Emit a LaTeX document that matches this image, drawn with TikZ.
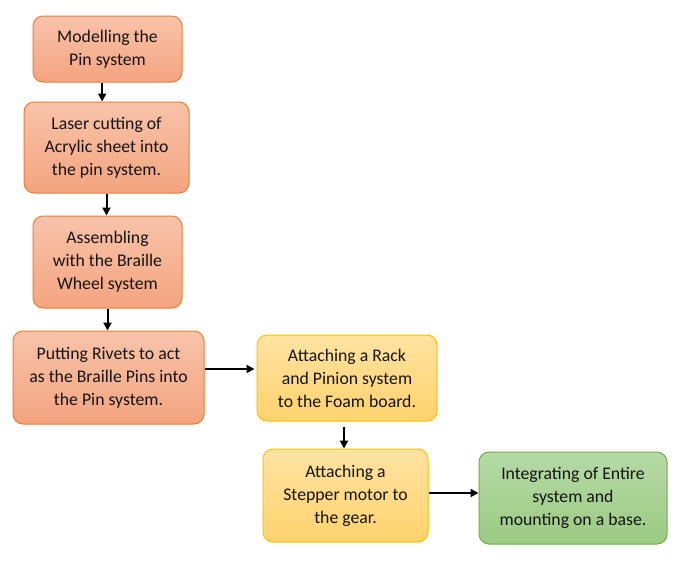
\documentclass[tikz,border=0pt]{standalone}
\usepackage{fontspec}
\setmainfont{Carlito}
\usetikzlibrary{arrows.meta}

\definecolor{orangeline}{HTML}{ED7D31}
\definecolor{orangetop}{HTML}{F8C3AA}
\definecolor{orangebot}{HTML}{F4A47F}
\definecolor{yellowline}{HTML}{FFC000}
\definecolor{yellowtop}{HTML}{FFE3A2}
\definecolor{yellowbot}{HTML}{FFD26C}
\definecolor{greenline}{HTML}{70AD47}
\definecolor{greentop}{HTML}{B6DAA6}
\definecolor{greenbot}{HTML}{9BCB83}
\definecolor{textcol}{HTML}{141414}

\begin{document}
\begin{tikzpicture}[x=0.75pt, y=-0.75pt,
  every node/.style =
  	{shape=rectangle, rounded corners=7.5pt,
    line width=0.75pt, align=center, inner sep=0pt,
    text=textcol, font=\fontsize{13.3}{17.2}\selectfont},
  orangebox/.style = {draw=orangeline, top color=orangetop, bottom color=orangebot},
  yellowbox/.style = {draw=yellowline, top color=yellowtop, bottom color=yellowbot},
  greenbox/.style  = {draw=greenline, top color=greentop, bottom color=greenbot},
  flow/.style = {line width=1.5pt, -{Triangle[length=6pt,width=6pt]}}
]
  \useasboundingbox (0,0) rectangle (691,569);

  \node[orangebox, minimum width=111.75pt, minimum height=49.5pt] (model) at (107.5,49)
    {Modelling the\\Pin system};
  \node[orangebox, minimum width=123.75pt, minimum height=68.25pt] (laser) at (106.5,147.5)
    {Laser cutting of\\Acrylic sheet into\\the pin system.};
  \node[orangebox, minimum width=111.75pt, minimum height=69pt] (assemble) at (107.5,262)
    {Assembling\\with the Braille\\Wheel system};
  \node[orangebox, minimum width=143.25pt, minimum height=69.75pt] (rivets) at (108.5,377.5)
    {Putting Rivets to act\\as the Braille Pins into\\the Pin system.};
  \node[yellowbox, minimum width=135pt, minimum height=64.5pt] (rack) at (347,378)
    {Attaching a Rack\\and Pinion system\\to the Foam board.};
  \node[yellowbox, minimum width=123.75pt, minimum height=69.75pt] (stepper) at (345.5,495.5)
    {Attaching a\\Stepper motor to\\the gear.};
  \node[greenbox, minimum width=141pt, minimum height=69pt] (integrate) at (573,498)
    {Integrating of Entire\\system and\\mounting on a base.};

  % connectors
  \draw[flow] ([xshift=-4pt]model.south) -- ([xshift=-4pt]model.south |- laser.north);
  \draw[flow] (laser.south) -- (laser.south |- assemble.north);
  \draw[flow] (assemble.south) -- (assemble.south |- rivets.north);
  \draw[flow] ([yshift=6.4pt]rivets.east) -- ([yshift=6.4pt,xshift=-1.5pt]rivets.east -| rack.west);
  \draw[flow] ([yshift=-3.75pt,xshift=-2.25pt]rack.south) -- ([xshift=-2.25pt]rack.south |- stepper.north);
  \draw[flow] ([yshift=1.9pt]stepper.east) -- ([yshift=1.9pt]stepper.east -| integrate.west);

\end{tikzpicture}
\end{document}
